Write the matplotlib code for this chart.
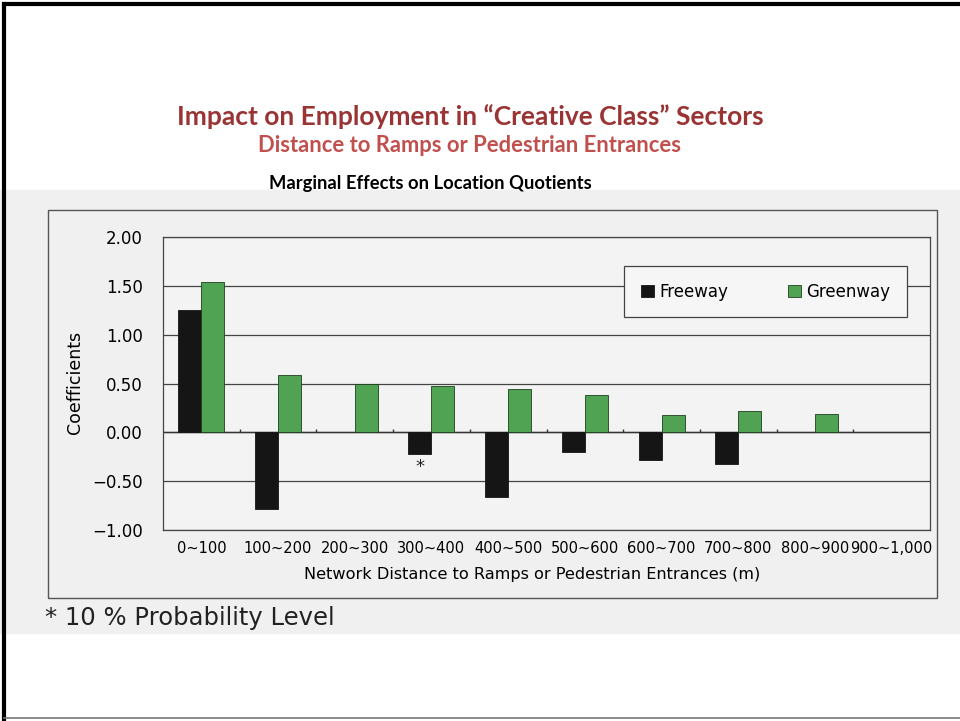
import numpy as np
import matplotlib.pyplot as plt
from matplotlib.patches import Rectangle
from matplotlib.lines import Line2D

categories = ['0~100', '100~200', '200~300', '300~400', '400~500',
              '500~600', '600~700', '700~800', '800~900', '900~1,000']
freeway = [1.25, -0.79, np.nan, -0.22, -0.66, -0.20, -0.28, -0.32, np.nan, np.nan]
greenway = [1.54, 0.59, 0.50, 0.47, 0.44, 0.38, 0.18, 0.22, 0.19, np.nan]
significant = ['300~400']  # freeway, 10 % level
yticks = [-1.0, -0.5, 0.0, 0.5, 1.0, 1.5, 2.0]

green = '#4fa352'
W, H = 960, 721
fig = plt.figure(figsize=(W / 100, H / 100), dpi=100)
fig.patch.set_facecolor('white')

# slide background + borders
fig.add_artist(Rectangle((0, 1 - 633 / H), 1, (633 - 190) / H,
                         transform=fig.transFigure, color='#f0f0f0', zorder=0))
fig.add_artist(Line2D([4 / W, 4 / W], [0, 1 - 4 / H], transform=fig.transFigure,
                      color='black', lw=3))
fig.add_artist(Line2D([4 / W, 1], [1 - 4 / H, 1 - 4 / H], transform=fig.transFigure,
                      color='black', lw=3))
fig.add_artist(Line2D([4 / W, 1], [1 - 718 / H, 1 - 718 / H], transform=fig.transFigure,
                      color='#777777', lw=1.2))
# outer chart box
fig.add_artist(Rectangle((48 / W, 1 - 598 / H), (937 - 48) / W, (598 - 210) / H,
                         transform=fig.transFigure, fill=False, edgecolor='#555555',
                         lw=1.0, zorder=1))

tfont = ['Lato', 'DejaVu Sans']
fig.text(470 / W, 1 - 117 / H, 'Impact on Employment in \u201cCreative Class\u201d Sectors',
         ha='center', va='center', fontsize=19, fontweight='bold', color='#9a3434',
         family=tfont)
fig.text(470 / W, 1 - 146 / H, 'Distance to Ramps or Pedestrian Entrances',
         ha='center', va='center', fontsize=15.8, fontweight='bold', color='#c0504d',
         family=tfont)
fig.text(430 / W, 1 - 184 / H, 'Marginal Effects on Location Quotients',
         ha='center', va='center', fontsize=13.2, fontweight='bold', color='black',
         family=tfont)

ax = fig.add_axes([163 / W, 1 - 530 / H, (930 - 163) / W, (530 - 237) / H])
ax.set_facecolor('#f3f3f3')
x = np.arange(len(categories))
bw = 0.3
ax.bar(x - bw / 2, freeway, bw, color='#151515', edgecolor='#151515', lw=0.6,
       label='Freeway', zorder=3)
ax.bar(x + bw / 2, greenway, bw, color=green, edgecolor='#1f3f1f', lw=0.6,
       label='Greenway', zorder=3)

for i, c in enumerate(categories):
    if c in significant:
        ax.text(x[i] - bw / 2, freeway[i] - 0.04, '*', ha='center', va='top',
                fontsize=13, color='#222222', zorder=4)

ax.set_xlim(-0.5, len(categories) - 0.5)
ax.set_ylim(-1.0, 2.0)
ax.set_yticks(yticks)
ax.set_yticklabels([f'{v:.2f}'.replace('-', '\u2212') for v in yticks], fontsize=12)
ax.set_xticks(x)
ax.set_xticklabels(categories, fontsize=10.5)
ax.tick_params(length=0, pad=8)
ax.tick_params(axis='y', pad=14.5)
ax.grid(axis='y', color='#444444', lw=0.9, zorder=1)
ax.axhline(0, color='#333333', lw=1.0, zorder=2)
# small category separator ticks on zero line
ax.vlines(x[1:] - 0.5, 0, 0.03, color='#333333', lw=1.0, zorder=2)
for s in ax.spines.values():
    s.set_color('#444444')
    s.set_linewidth(0.9)

ax.set_ylabel('Coefficients', fontsize=12.5)
ax.yaxis.set_label_coords((75 - 163) / 767, (530 - 382) / 293)
ax.set_xlabel('Network Distance to Ramps or Pedestrian Entrances (m)', fontsize=11.6)
ax.xaxis.set_label_coords((532 - 163) / 767, -(574 - 530) / 293)
ax.xaxis.label.set_va('center')
ax.yaxis.label.set_va('center')

leg = ax.legend(loc='upper right', bbox_to_anchor=(907 / W, 1 - 266 / H),
                bbox_transform=fig.transFigure, ncol=2, fontsize=12, frameon=True,
                fancybox=False, edgecolor='#444444', facecolor='#f6f6f6',
                framealpha=1, handlelength=0.8, handleheight=0.8,
                columnspacing=3.6, borderpad=1.0, handletextpad=0.3,
                borderaxespad=0)
leg.get_frame().set_linewidth(0.9)
leg.set_zorder(5)

fig.text(45 / W, 1 - 618 / H, '* 10 % Probability Level', ha='left', va='center',
         fontsize=17.5, color='#222222')

fig.savefig('out.png', dpi=100)
